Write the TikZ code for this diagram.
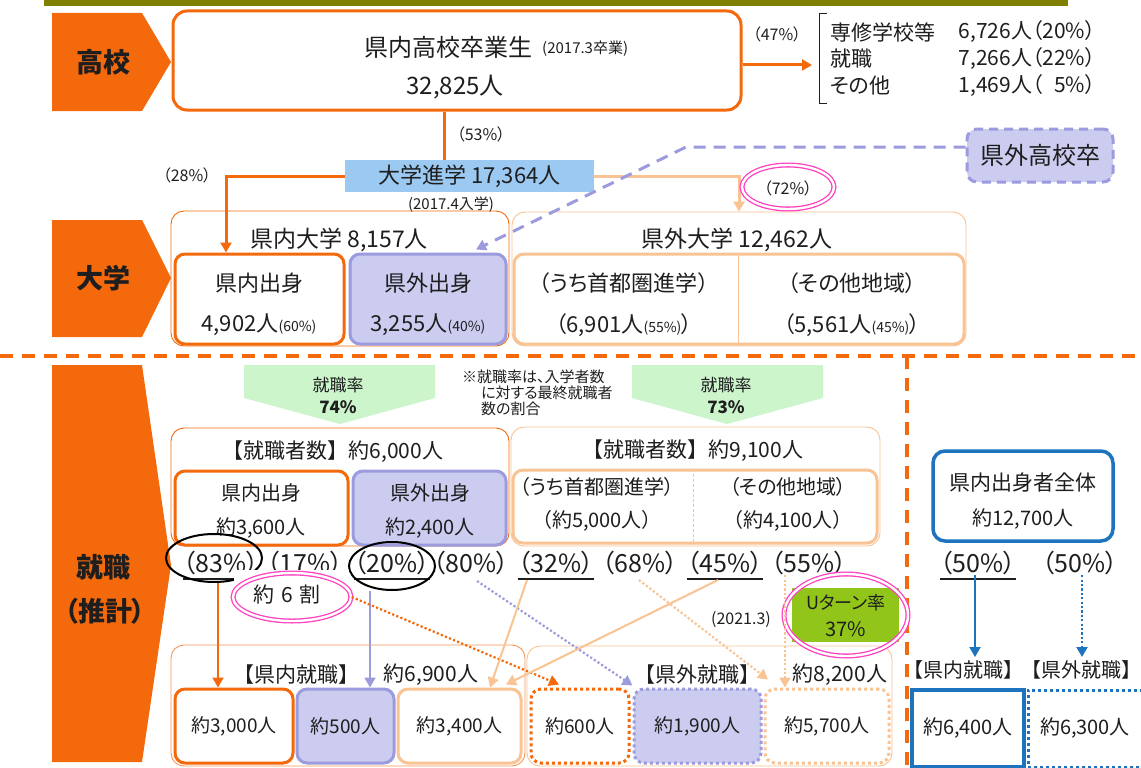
\documentclass[tikz,border=0pt]{standalone}
\usepackage{fontspec}
\setmainfont{Noto Sans CJK JP}[RawFeature=+palt]
\newfontfamily\fw{Noto Sans CJK JP}
\usetikzlibrary{arrows.meta,fit,calc,shapes.geometric}
\definecolor{orng}{HTML}{F4690C}
\definecolor{peach}{HTML}{F9C393}
\definecolor{lav}{HTML}{CCCCF0}
\definecolor{purp}{HTML}{9B9BDE}
\definecolor{blu}{HTML}{1E73BE}
\definecolor{mint}{HTML}{CCF5CC}
\definecolor{ygreen}{HTML}{92C51A}
\definecolor{skyb}{HTML}{9CC9F2}
\definecolor{pinkc}{HTML}{FF40C0}
\definecolor{olivec}{HTML}{7F7F00}
\definecolor{txt}{HTML}{1E1E1E}
\newcommand\myfs[1]{\fontsize{#1}{#1}\selectfont}
\begin{document}
\begin{tikzpicture}[x=1pt,y=-1pt,
  every node/.style={text=txt, inner sep=0pt},
  tx/.style={font=\myfs{#1}},
  fwt/.style={font=\fw\myfs{#1}},
  sect/.style={font=\myfs{27}\bfseries},
  grp/.style={draw, line width=0.9pt, rounded corners=13pt, inner sep=0pt},
  thk/.style={draw, line width=3pt, rounded corners=10pt, inner sep=0pt, fill=white},
  dotb/.style={draw, line width=3pt, dash pattern=on 3pt off 3pt, rounded corners=10pt, inner sep=0pt, fill=white},
  dotl/.style={line width=2.2pt, dash pattern=on 2.2pt off 2.2pt},
  dsh/.style={line width=3pt, dash pattern=on 12pt off 8pt},
  sep/.style={line width=4pt, dash pattern=on 13pt off 9pt},
  arr/.style={-{Triangle[width=11pt,length=10pt]}},
  pinkell/.style={ellipse, draw=pinkc, line width=1.3pt, double=white, double distance=2.4pt, inner sep=0pt},
  blkell/.style={ellipse, draw=black, line width=2pt, inner sep=0pt}
]
\useasboundingbox (0,0) rectangle (1141,768);
\fill[white] (0,0) rectangle (1141,768);
\fill[olivec] (44,0) rectangle (1068,6);

% section labels
\fill[orng] (52,13) -- (142,13) -- (171,62) -- (142,111) -- (52,111) -- cycle;
\node[sect] (lk) at (103,62) {高校};
\fill[orng] (52,220) -- (142,220) -- (171,278) -- (142,337) -- (52,337) -- cycle;
\node[sect] (ld) at (103,278) {大学};
\fill[orng] (52,365) -- (142,365) -- (171,565) -- (142,762) -- (52,762) -- cycle;
\node[sect] (ls1) at (103,567) {就職};
\node[sect] (ls2) at (105,611) {（推計）};

% high school
\node[thk, draw=orng, rounded corners=14pt, fit={(173,11) (741,110)}] (koso) {};
\node[tx=24, anchor=west] (kosot) at (364,47) {県内高校卒業生};
\node[tx=15, anchor=west] (kosod) at (542,49) {(2017.3卒業)};
\node[tx=24] (kosn) at (455,87) {32,825人};

\coordinate (c47) at (812,65);
\draw[orng, line width=3pt, arr] (koso.east |- c47) -- (c47);
\node[tx=16] (l47) at (777,34) {（47\%）};
\draw[txt, line width=1pt] (827,14) -| (819,103) -- (827,103);
\node[tx=21, anchor=west] (r1a) at (830,32) {専修学校等};
\node[tx=21, anchor=west] (r2a) at (830,59) {就職};
\node[tx=21, anchor=west] (r3a) at (830,86) {その他};
\node[tx=21, anchor=east] (r1b) at (1096,32) {6,726人（20\%）};
\node[tx=21, anchor=east] (r2b) at (1096,59) {7,266人（22\%）};
\node[tx=21, anchor=east] (r3b) at (1096,86) {1,469人（\hphantom{0}5\%）};

% university entrance
\node[fill=skyb, fit={(345,160) (594,192)}] (shin) {};
\node[tx=22] (shint) at (shin.center) {大学進学 17,364人};
\coordinate (c53) at (444,0);
\draw[orng, line width=3pt] (koso.south -| c53) -- (shin.north -| c53);
\node[tx=16] (l53) at (481,134) {（53\%）};
\node[tx=15] (l2017) at (451,205) {(2017.4入学)};
\node[tx=16] (l28) at (187,175) {（28\%）};

% out-of-prefecture high school
\node[fill=lav, draw=purp, line width=3pt, dash pattern=on 9pt off 6pt, rounded corners=10pt, fit={(967,129) (1113,182)}] (kgk) {};
\node[tx=24] (kgkt) at (kgk.center) {県外高校卒};

% university row
\node[grp, draw=orng, fit={(171,211) (509,346)}] (kdg) {};
\node[tx=23] (kdgt) at (339,240) {県内大学 8,157人};
\node[thk, draw=orng, fit={(175,254) (344,344)}] (kdsh) {};
\node[tx=22] (kdsh1) at (259,283) {県内出身};
\node[tx=22] (kdsh2) at (259,325) {4,902人{\myfs{14}(60\%)}};
\node[thk, draw=purp, fill=lav, fit={(350,254) (506,344)}] (kgsh) {};
\node[tx=22] (kgsh1) at (428,283) {県外出身};
\node[tx=22] (kgsh2) at (428,325) {3,255人{\myfs{14}(40\%)}};
\node[grp, draw=peach, fit={(512,212) (966,346)}] (kgg) {};
\node[tx=23] (kggt) at (737,240) {県外大学 12,462人};
\node[thk, draw=peach, fit={(514,254) (964,344)}] (kgin) {};
\coordinate (c738) at (738,0);
\draw[peach, line width=1pt] (kgin.north -| c738) -- (kgin.south -| c738);
\node[tx=22] (kg1a) at (624,283) {（うち首都圏進学）};
\node[tx=22] (kg1b) at (624,325) {（6,901人{\myfs{14}(55\%)}）};
\node[tx=22] (kg2a) at (852,283) {（その他地域）};
\node[tx=22] (kg2b) at (852,325) {（5,561人{\myfs{14}(45\%)}）};

% connectors top
\coordinate (c28) at (226,0);
\draw[orng, line width=3pt, arr] (shin.west) -| (kdsh.north -| c28);
\coordinate (c72) at (739,0);
\draw[peach, line width=3pt, arr] (shin.east) -| (kgg.north -| c72);
\node[tx=16] (l72) at (788,188) {（72\%）};
\node[pinkell, minimum width=92pt, minimum height=44pt] (e72) at (788,187) {};
\coordinate (cbend) at (686,147);
\coordinate (c476) at (476,0);
\draw[purp, dsh, arr] (kgk.west |- cbend) -- (cbend) -- ($(kgsh.north -| c476)+(0,-3)$);

% separators
\coordinate (hl0) at (0,356);
\coordinate (hl1) at (1141,356);
\draw[orng, sep] (hl0) -- (hl1);
\coordinate (vl0) at (907,356);
\coordinate (vl1) at (907,768);
\draw[orng, sep] (vl0) -- (vl1);

% employment rates
\fill[mint] (244,365) -- (435,365) -- (435,398) -- (340,424) -- (244,398) -- cycle;
\node[tx=17] (r74a) at (338,385) {就職率};
\node[font=\myfs{17}\bfseries] (r74b) at (338,407) {74\%};
\fill[mint] (632,365) -- (823,365) -- (823,398) -- (727,424) -- (632,398) -- cycle;
\node[tx=17] (r73a) at (726,385) {就職率};
\node[font=\myfs{17}\bfseries] (r73b) at (726,407) {73\%};
\node[tx=15, anchor=west] (n1) at (462,377) {※就職率は、入学者数};
\node[tx=15, anchor=west] (n2) at (481,393) {に対する最終就職者};
\node[tx=15, anchor=west] (n3) at (481,409) {数の割合};

% employed counts
\node[grp, draw=orng, fit={(171,428) (509,546)}] (sjl) {};
\node[fwt=21] (sjlt) at (333,452) {【就職者数】約6,000人};
\node[thk, draw=orng, fit={(175,471) (348,545)}] (sjk) {};
\node[tx=20] (sjk1) at (261,493) {県内出身};
\node[tx=20] (sjk2) at (261,528) {約3,600人};
\node[thk, draw=purp, fill=lav, fit={(353,471) (506,545)}] (sjg) {};
\node[tx=20] (sjg1) at (430,493) {県外出身};
\node[tx=20] (sjg2) at (430,528) {約2,400人};
\node[grp, draw=peach, fit={(511,427) (880,546)}] (sjr) {};
\node[fwt=21] (sjrt) at (693,451) {【就職者数】約9,100人};
\node[thk, draw=peach, fit={(513,470) (877,543)}] (sjin) {};
\coordinate (c693) at (693,0);
\draw[peach, line width=0.8pt, dash pattern=on 3pt off 2pt] (sjin.north -| c693) -- (sjin.south -| c693);
\node[tx=20] (sj1a) at (597,487) {（うち首都圏進学）};
\node[tx=20] (sj1b) at (597,521) {（約5,000人）};
\node[tx=20] (sj2a) at (788,487) {（その他地域）};
\node[tx=20] (sj2b) at (788,521) {（約4,100人）};

% percentage row
\coordinate (uy) at (0,579);
\node[tx=25] (p83) at (221,563) {（83\%）};
\node[tx=25] (p17) at (305,563) {（17\%）};
\node[tx=25] (p20) at (392,563) {（20\%）};
\node[tx=25] (p80) at (471,563) {（80\%）};
\node[tx=25] (p32) at (556,563) {（32\%）};
\node[tx=25] (p68) at (640,563) {（68\%）};
\node[tx=25] (p45) at (725,563) {（45\%）};
\node[tx=25] (p55) at (809,563) {（55\%）};
\draw[txt, line width=1.2pt] (p83.west |- uy) -- (p83.east |- uy);
\draw[txt, line width=1.2pt] (p20.west |- uy) -- (p20.east |- uy);
\draw[txt, line width=1.2pt] (p32.west |- uy) -- (p32.east |- uy);
\draw[txt, line width=1.2pt] (p45.west |- uy) -- (p45.east |- uy);
\node[blkell, minimum width=96pt, minimum height=48pt] (e83) at (214,558) {};
\node[blkell, minimum width=86pt, minimum height=48pt] (e20) at (392,566) {};
\fill[white] (234,570) rectangle (349,626);
\node[pinkell, minimum width=118pt, minimum height=48pt] (e6) at (292,597) {};
\node[tx=21] (l6) at (287,595) {約\hspace{7pt}6\hspace{7pt}割};

% bottom: in-prefecture employment
\node[grp, draw=orng!70, fit={(171,645) (525,766)}] (bkg) {};
\node[fwt=21] (bkt1) at (296,675) {【県内就職】};
\node[tx=21] (bkt2) at (431,675) {約6,900人};
\node[thk, draw=orng, fit={(175,689) (293,763)}] (b3000) {};
\node[tx=19] (b3000t) at (b3000.center) {約3,000人};
\node[thk, draw=purp, fill=lav, fit={(297,689) (394,763)}] (b500) {};
\node[tx=19] (b500t) at (b500.center) {約500人};
\node[thk, draw=peach, fit={(398,689) (521,763)}] (b3400) {};
\node[tx=19] (b3400t) at (b3400.center) {約3,400人};

% bottom: out-of-prefecture employment
\node[grp, draw=peach, fit={(527,646) (892,766)}] (bgg) {};
\node[fwt=21] (bgt1) at (697,675) {【県外就職】};
\node[tx=21] (bgt2) at (840,675) {約8,200人};
\node[dotb, draw=orng, fit={(531,689) (629,763)}] (b600) {};
\node[tx=19] (b600t) at (b600.center) {約600人};
\node[dotb, draw=purp, fill=lav, fit={(634,689) (761,763)}] (b1900) {};
\node[tx=19] (b1900t) at (b1900.center) {約1,900人};
\node[dotb, draw=peach, fit={(765,689) (889,763)}] (b5700) {};
\node[tx=19] (b5700t) at (b5700.center) {約5,700人};

% U-turn
\node[fill=ygreen, fit={(792,588) (899,642)}] (ut) {};
\node[tx=18] (ut1) at (846,603) {Uターン率};
\node[tx=20] (ut2) at (846,629) {37\%};
\node[pinkell, minimum width=124pt, minimum height=82pt] (eut) at (846,615) {};
\node[tx=16] (l2021) at (741,620) {(2021.3)};

% flow arrows
\coordinate (c218) at (218,0);
\draw[orng, line width=2pt, arr] (e83.south -| c218) -- (b3000.north -| c218);
\coordinate (c370) at (370,0);
\draw[purp, line width=2pt, arr] (e20.south -| c370) -- (b500.north -| c370);
\coordinate (c559) at (559,0);
\draw[orng, dotl, arr] (e6.east) -- ($(b600.north -| c559)+(0,-3)$);
\coordinate (s80) at (477,581);
\draw[purp, dotl, arr] (s80) -- ($(b1900.north west)+(0,-2)$);
\coordinate (s32) at (527,580);
\coordinate (c490) at (490,0);
\draw[peach, line width=2pt, arr] (s32) -- (b3400.north -| c490);
\coordinate (s45) at (718,580);
\coordinate (c506) at (506,0);
\draw[peach, line width=2pt, arr] (s45) -- ($(b3400.north -| c506)+(0,-3)$);
\coordinate (s68) at (639,580);
\coordinate (c768) at (768,0);
\draw[peach, dotl, arr] (s68) -- ($(b5700.north -| c768)+(0,-8)$);
\coordinate (c785) at (785,0);
\draw[peach, dotl, arr] (p55.south -| c785) -- (b5700.north -| c785);

% right section
\node[thk, draw=blu, line width=3.5pt, rounded corners=12pt, fit={(933,451) (1113,541)}] (bz) {};
\node[tx=21] (bz1) at (1023,483) {県内出身者全体};
\node[tx=20] (bz2) at (1023,519) {約12,700人};
\node[tx=25] (q1) at (978,563) {（50\%）};
\node[tx=25] (q2) at (1080,563) {（50\%）};
\draw[txt, line width=1.2pt] (q1.west |- uy) -- (q1.east |- uy);
\coordinate (t975) at (975,657);
\coordinate (t1082) at (1082,657);
\draw[blu, line width=2pt, arr] (q1.south -| t975) -- (t975);
\draw[blu, dotl, arr] (q2.south -| t1082) -- (t1082);
\node[fwt=20] (bt1) at (963,670) {【県内就職】};
\node[fwt=20] (bt2) at (1081,670) {【県外就職】};
\node[draw=blu, line width=3.5pt, fill=white, fit={(912,690) (1024,767)}] (bk64) {};
\node[tx=20] (bk64t) at (968,728) {約6,400人};
\node[draw=blu, line width=3pt, dash pattern=on 3pt off 3pt, fill=white, fit={(1028,690) (1146,767)}] (bk63) {};
\node[tx=20] (bk63t) at (1085,728) {約6,300人};
\end{tikzpicture}
\end{document}
